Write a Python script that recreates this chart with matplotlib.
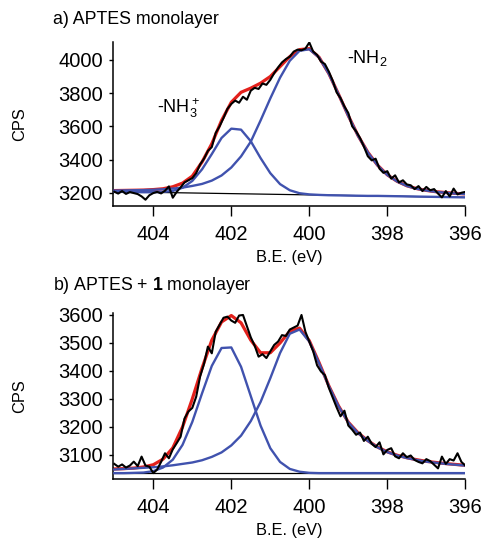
import numpy as np
import matplotlib
matplotlib.use("Agg")
import matplotlib.pyplot as plt

plt.rcParams["font.family"] = ["Liberation Sans", "DejaVu Sans"]
plt.rcParams["mathtext.fontset"] = "custom"
plt.rcParams["mathtext.rm"] = "Liberation Sans"
plt.rcParams["mathtext.it"] = "Liberation Sans:italic"
plt.rcParams["mathtext.bf"] = "Liberation Sans:bold"
plt.rcParams["mathtext.default"] = "regular"

# ---------- data ----------
# binding energy grids (eV): raw spectrum every 0.1 eV, fit curves every 0.25 eV
be_raw = np.linspace(405.0, 396.0, 91)
be_fit = np.linspace(405.0, 396.0, 37)

# a) APTES monolayer
raw_a = [3206, 3195, 3210, 3193, 3204, 3198, 3192, 3178, 3158, 3185,
         3198, 3205, 3196, 3212, 3238, 3170, 3205, 3232, 3262, 3275,
         3288, 3318, 3370, 3405, 3452, 3475, 3560, 3600, 3650, 3705,
         3735, 3755, 3742, 3778, 3760, 3815, 3832, 3825, 3858, 3850,
         3880, 3920, 3955, 3985, 4005, 4020, 4050, 4062, 4058, 4068,
         4105, 4050, 4030, 3990, 3975, 3930, 3875, 3805, 3770, 3720,
         3680, 3600, 3570, 3530, 3478, 3420, 3395, 3405, 3345, 3320,
         3330, 3285, 3305, 3262, 3275, 3250, 3245, 3222, 3240, 3210,
         3235, 3215, 3222, 3195, 3172, 3210, 3178, 3225, 3190, 3200,
         3205]
env_a = [3213, 3214, 3215, 3216, 3219, 3224, 3236, 3258, 3300, 3385,
         3495, 3635, 3745, 3805, 3830, 3860, 3900, 3960, 4020, 4062,
         4068, 4016, 3918, 3793, 3664, 3544, 3444, 3366, 3308, 3269,
         3242, 3225, 3214, 3206, 3201, 3196, 3193]
nh3_a = [3206, 3205, 3204, 3203, 3203, 3205, 3211, 3230, 3271, 3341,
         3433, 3530, 3586, 3580, 3510, 3409, 3318, 3252, 3215, 3197,
         3190, 3187, 3185, 3184, 3183, 3182, 3181, 3181, 3180, 3179,
         3178, 3177, 3176, 3175, 3174, 3173, 3172]
nh2_a = [3213, 3214, 3215, 3216, 3218, 3221, 3225, 3231, 3241, 3253,
         3273, 3304, 3352, 3419, 3508, 3635, 3768, 3893, 3995, 4055,
         4064, 4015, 3917, 3792, 3663, 3543, 3443, 3365, 3307, 3268,
         3241, 3224, 3213, 3205, 3200, 3195, 3192]
base_a_be = [405.0, 396.0]
base_a = [3206, 3172]

# b) APTES + 1 monolayer
raw_b = [3068, 3058, 3066, 3055, 3062, 3076, 3060, 3094, 3062, 3058,
         3035, 3048, 3075, 3106, 3088, 3120, 3142, 3165, 3230, 3255,
         3268, 3308, 3380, 3425, 3487, 3463, 3540, 3565, 3590, 3594,
         3580, 3572, 3598, 3600, 3560, 3520, 3490, 3451, 3460, 3446,
         3470, 3493, 3505, 3528, 3525, 3548, 3555, 3562, 3600, 3540,
         3505, 3470, 3420, 3398, 3385, 3340, 3305, 3270, 3238, 3258,
         3205, 3190, 3172, 3180, 3150, 3165, 3140, 3128, 3145, 3102,
         3118, 3124, 3095, 3088, 3106, 3092, 3098, 3082, 3075, 3070,
         3085, 3078, 3065, 3052, 3094, 3068, 3085, 3080, 3106, 3075,
         3062]
env_b = [3050, 3051, 3053, 3057, 3065, 3085, 3125, 3200, 3300, 3410,
         3510, 3575, 3598, 3572, 3510, 3465, 3465, 3500, 3542, 3553,
         3508, 3430, 3347, 3275, 3217, 3179, 3151, 3128, 3111, 3099,
         3090, 3083, 3077, 3073, 3069, 3066, 3063]
nh3_b = [3035, 3035, 3036, 3037, 3042, 3055, 3083, 3136, 3218, 3320,
         3418, 3482, 3484, 3415, 3310, 3205, 3124, 3075, 3050, 3040,
         3036, 3035, 3035, 3035, 3035, 3035, 3035, 3035, 3035, 3035,
         3035, 3035, 3035, 3035, 3035, 3035, 3035]
nh2_b = [3048, 3050, 3052, 3054, 3056, 3059, 3063, 3068, 3073, 3081,
         3093, 3109, 3134, 3169, 3221, 3289, 3374, 3464, 3533, 3548,
         3505, 3428, 3346, 3274, 3216, 3178, 3150, 3127, 3110, 3098,
         3089, 3082, 3076, 3072, 3068, 3065, 3062]
base_b_be = [405.0, 396.0]
base_b = [3035, 3035]

x_ticks = [404, 402, 400, 398, 396]
yticks_a = [3200, 3400, 3600, 3800, 4000]
yticks_b = [3100, 3200, 3300, 3400, 3500, 3600]

BLUE = "#4052ae"
RED = "#e3211c"
TICK_FS = 14.5
LABEL_FS = 11.8
TITLE_FS = 12.8
NOTE_FS = 13


def draw_panel(ax, raw, env, nh3, nh2, base_be, base, yticks, ylim, xpad):
    ax.plot(be_fit, env, color=RED, lw=2.3, zorder=1)
    ax.plot(base_be, base, color="black", lw=0.9, zorder=2)
    ax.plot(be_fit, nh3, color=BLUE, lw=1.7, zorder=3)
    ax.plot(be_fit, nh2, color=BLUE, lw=1.7, zorder=3)
    ax.plot(be_raw, raw, color="black", lw=1.5, zorder=4)

    ax.set_xlim(405.04, 396.0)
    ax.set_ylim(*ylim)
    ax.set_xticks(x_ticks)
    ax.set_yticks(yticks)
    for s in ("top", "right"):
        ax.spines[s].set_visible(False)
    for s in ("left", "bottom"):
        ax.spines[s].set_linewidth(1.1)
    ax.tick_params(axis="x", direction="out", length=7, width=1.0,
                   pad=7, labelsize=TICK_FS)
    ax.tick_params(axis="y", direction="out", length=3, width=1.0,
                   pad=4, labelsize=TICK_FS)
    ax.set_xlabel("B.E. (eV)", fontsize=LABEL_FS, labelpad=xpad)
    ax.set_ylabel("CPS", fontsize=LABEL_FS)
    ax.yaxis.set_label_coords(-0.243, 0.5)


fig = plt.figure(figsize=(4.84, 5.41), dpi=100)
ax_a = fig.add_axes([0.2329, 0.6198, 0.7285, 0.3026])
ax_b = fig.add_axes([0.2329, 0.1146, 0.7285, 0.3063])

draw_panel(ax_a, raw_a, env_a, nh3_a, nh2_a, base_a_be, base_a,
           yticks_a, (3122, 4108), 4)
draw_panel(ax_b, raw_b, env_b, nh3_b, nh2_b, base_b_be, base_b,
           yticks_b, (3014, 3606), 4)

ax_a.text(403.9, 3680, r"-NH$_3^+$", fontsize=NOTE_FS, ha="left", va="baseline")
ax_a.text(399.04, 3980, r"-NH$_2$", fontsize=NOTE_FS, ha="left", va="baseline")

fig.text(53 / 484, 1 - 20 / 541, "a) APTES monolayer",
         fontsize=TITLE_FS, ha="left", va="center")
fig.text(53 / 484, 1 - 285 / 541, r"b) APTES + $\mathbf{1}$ monolayer",
         fontsize=TITLE_FS, ha="left", va="center")

fig.savefig("out.png", dpi=100)
